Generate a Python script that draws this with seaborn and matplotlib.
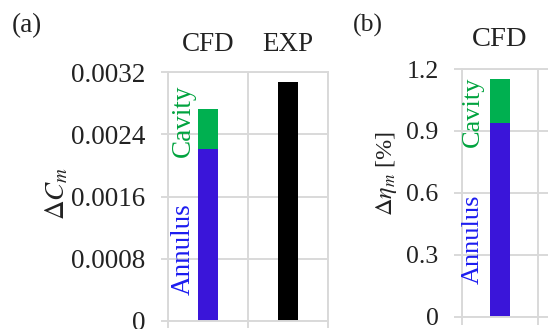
import numpy as np
import matplotlib
matplotlib.use("Agg")
import matplotlib.pyplot as plt
import seaborn as sns
from matplotlib.ticker import FixedLocator

# ---- data ----
categories_a = ["CFD", "EXP"]
cm_total = [0.00272, 0.00307]      # CFD: annulus + cavity, EXP: measured
cm_annulus = [0.00221]             # CFD annulus share
cm_ticks = [0, 0.0008, 0.0016, 0.0024, 0.0032]
cm_tick_labels = ["0", "0.0008", "0.0016", "0.0024", "0.0032"]

categories_b = ["CFD"]
eta_total = [1.151]                # CFD: annulus + cavity
eta_annulus = [0.938]
eta_ticks = [0, 0.3, 0.6, 0.9, 1.2]
eta_tick_labels = ["0", "0.3", "0.6", "0.9", "1.2"]

# ---- style ----
sns.set_theme(style="white")
plt.rcParams["font.family"] = ["Liberation Serif", "DejaVu Serif"]
plt.rcParams["mathtext.fontset"] = "stix"

BLUE = "#3A15D9"
GREEN = "#00B050"
BLUE_TXT = "#1C1CF0"
GREEN_TXT = "#00A33E"
GRID = "#D9D9D9"
TXT = "#222222"
LW = 1.4

fig = plt.figure(figsize=(5.48, 3.29), dpi=100)
ax_a = fig.add_axes([168 / 548, 8 / 329, 160 / 548, 249 / 329])
ax_b = fig.add_axes([461.5 / 548, 12.5 / 329, 153 / 548, 247.5 / 329])


def style_axes(ax, cats, ticks, labels, xfs, yfs, ypad, ylen, toppad):
    ax.set_axisbelow(True)
    ax.set_xticks(range(len(cats)))
    ax.set_xticklabels(cats, fontsize=xfs, color=TXT)
    ax.set_xlim(-0.5, 1.5)
    ax.set_ylim(0, ticks[-1])
    ax.set_yticks(ticks)
    ax.set_yticklabels(labels, fontsize=yfs, color=TXT)
    ax.yaxis.grid(True, color=GRID, lw=LW)
    ax.xaxis.set_minor_locator(FixedLocator([-0.5, 0.5, 1.5]))
    ax.xaxis.grid(True, which="minor", color=GRID, lw=LW)
    ax.xaxis.grid(False, which="major")
    ax.tick_params(axis="x", which="major", top=False, bottom=False,
                   labeltop=True, labelbottom=False, length=0,
                   pad=toppad, labelsize=xfs, labelcolor=TXT)
    ax.tick_params(axis="x", which="minor", bottom=True, top=False,
                   length=ylen, width=LW, color=GRID)
    ax.tick_params(axis="y", which="major", left=True, length=ylen,
                   width=LW, color=GRID, pad=ypad, labelsize=yfs,
                   labelcolor=TXT)
    for s in ax.spines.values():
        s.set_color(GRID)
        s.set_linewidth(LW)
    ax.set_xlabel("")


# ---- panel (a) ----
sns.barplot(x=categories_a, y=cm_total, hue=categories_a, order=categories_a,
            palette=[GREEN, "black"], width=0.24, dodge=False, legend=False,
            saturation=1, linewidth=0, ax=ax_a)
sns.barplot(x=categories_a[:1], y=cm_annulus, order=categories_a,
            color=BLUE, width=0.24, saturation=1, linewidth=0, ax=ax_a)
style_axes(ax_a, categories_a, cm_ticks, cm_tick_labels, 19.5, 19.5, 11.5, 5, 11)
ax_a.set_ylabel(r"$\Delta C_m$", fontsize=19.5, color=TXT, va="center")
ax_a.yaxis.set_label_coords(-0.694, 0.514)
ax_a.text(-0.31, 0.00257, "Cavity", rotation=90, ha="center", va="center",
          color=GREEN_TXT, fontsize=19.5)
ax_a.text(-0.31, 0.000925, "Annulus", rotation=90, ha="center", va="center",
          color=BLUE_TXT, fontsize=19.5)

# ---- panel (b) ----
sns.barplot(x=categories_b, y=eta_total, color=GREEN, width=0.26,
            saturation=1, linewidth=0, ax=ax_b)
sns.barplot(x=categories_b, y=eta_annulus, color=BLUE, width=0.26,
            saturation=1, linewidth=0, ax=ax_b)
style_axes(ax_b, categories_b, eta_ticks, eta_tick_labels, 20.5, 18.5, 10.5, 6, 12)
ax_b.set_ylabel(r"$\Delta \eta_m$ [%]", fontsize=17.5, color=TXT, va="center")
ax_b.yaxis.set_label_coords(-0.493, 0.578)
ax_b.text(-0.35, 0.991, "Cavity", rotation=90, ha="center", va="center",
          color=GREEN_TXT, fontsize=19)
ax_b.text(-0.35, 0.374, "Annulus", rotation=90, ha="center", va="center",
          color=BLUE_TXT, fontsize=19)

# panel tags
fig.text(12 / 548, 1 - 26 / 329, "(a)", ha="left", va="center",
         fontsize=19.5, color=TXT)
fig.text(353 / 548, 1 - 25 / 329, "(b)", ha="left", va="center",
         fontsize=18.5, color=TXT)

fig.savefig("out.png", dpi=100)
